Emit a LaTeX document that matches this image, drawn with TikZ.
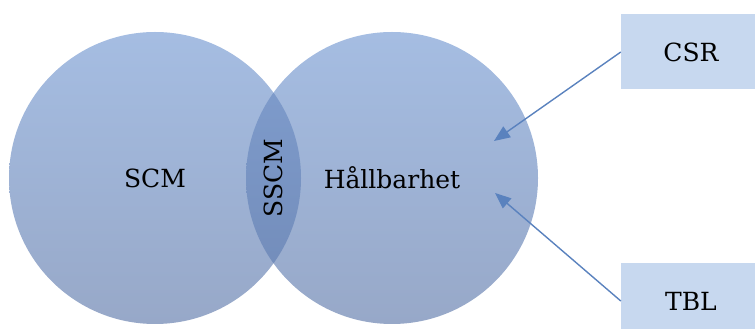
\documentclass[tikz,border=0pt]{standalone}
\usepackage{fontspec}
\setmainfont{DejaVu Serif}
\usetikzlibrary{arrows.meta}

\definecolor{ringTop}{HTML}{A5BDE2}
\definecolor{ringBot}{HTML}{97A8C8}
\definecolor{lensTop}{HTML}{819FD0}
\definecolor{lensBot}{HTML}{7089B6}
\definecolor{boxFill}{HTML}{C7D8EF}
\definecolor{arrowCol}{HTML}{5A82BE}

\begin{document}
\begin{tikzpicture}[x=1pt, y=1pt, >={Triangle[length=16pt,width=13pt]},
    label/.style={font=\fontsize{25}{29}\selectfont, text=black},
    sidebox/.style={fill=boxFill, minimum width=140pt, minimum height=75pt, inner sep=0pt, label},
    push/.style={->, arrowCol, line width=1.4pt}]
        \def\rad{146} \def\cy{151} \def\lx{155} \def\rx{392}

        \clip (0,0) rectangle (755,329);

        % the two sets
        \shade[top color=ringTop, bottom color=ringBot] (\lx,\cy) circle (\rad);
        \shade[top color=ringTop, bottom color=ringBot] (\rx,\cy) circle (\rad);
        \begin{scope}
            \clip (\lx,\cy) circle (\rad);
            \shade[top color=lensTop, bottom color=lensBot] (\rx,\cy) circle (\rad);
        \end{scope}

        \node[label] (scm) at (\lx,\cy) {SCM};
        \node[label] (hall) at (\rx,\cy) {Hållbarhet};
        \node[label, rotate=90] (sscm) at ({(\lx+\rx)/2},\cy) {SSCM};

        \node[sidebox] (csr) at (691,277) {CSR};
        \node[sidebox] (tbl) at (691,28) {TBL};

        \coordinate (csrTip) at (494,188);
        \coordinate (tblTip) at (495,136);

        \draw[push] (csr.west) -- (csrTip);
        \draw[push] (tbl.west) -- (tblTip);
    \end{tikzpicture}
\end{document}
